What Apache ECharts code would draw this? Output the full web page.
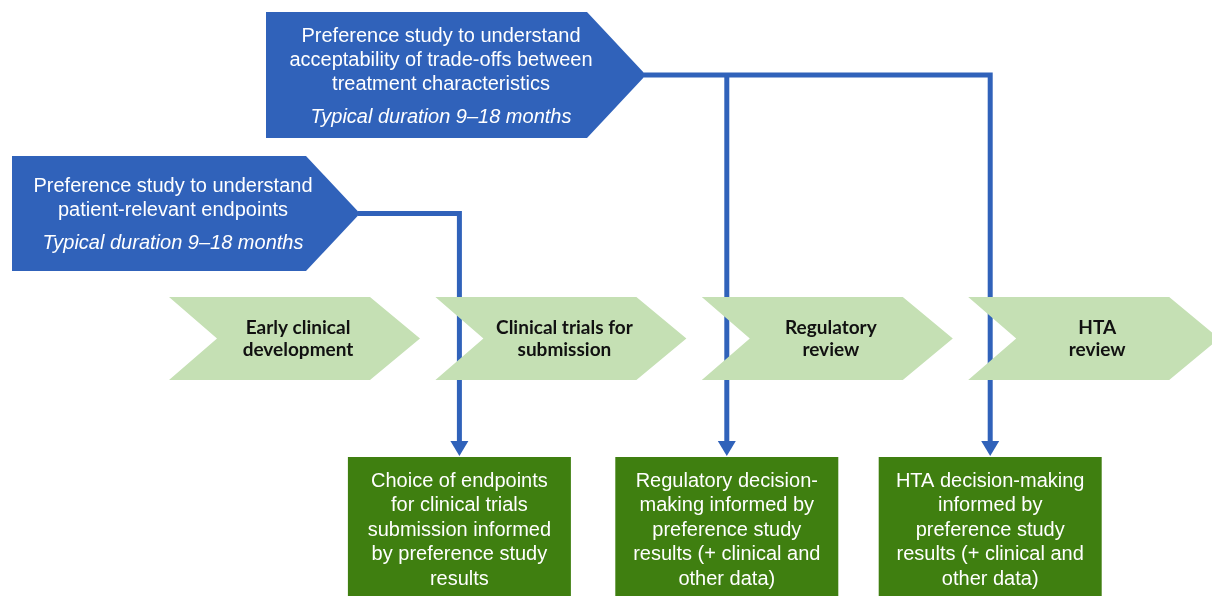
<!DOCTYPE html>
<html><head><meta charset="utf-8">
<script src="https://cdn.jsdelivr.net/npm/echarts@6/dist/echarts.min.js"></script>
<style>html,body{margin:0;padding:0;background:#fff}#c{width:1212px;height:596px}</style>
</head><body><div id="c"></div>
<script>
// ---- content ----
const stages = ['Early clinical\ndevelopment', 'Clinical trials for\nsubmission', 'Regulatory\nreview', 'HTA\nreview'];
const studyTitles = ['Preference study to understand\npatient-relevant endpoints',
  'Preference study to understand\nacceptability of trade-offs between\ntreatment characteristics'];
const studyDurations = ['Typical duration 9\u201318 months', 'Typical duration 9\u201318 months'];
const studyTargets = [[1], [2, 3]];
const outcomes = ['Choice of endpoints\nfor clinical trials\nsubmission informed\nby preference study\nresults',
  'Regulatory decision-\nmaking informed by\npreference study\nresults (+ clinical and\nother data)',
  'HTA decision-making\ninformed by\npreference study\nresults (+ clinical and\nother data)'];
const outcomeStages = [1, 2, 3];

// ---- layout / style ----
const BLUE = '#3062BA', LIGHT = '#C5E0B4', DARK = '#3F7F10';
const chev = {x0: 169, step: 266.4, w: 251, notch: 48, tip: 50, y0: 297, y1: 380, textDx: 129};
const lineOffsets = [24, 24, 25, 22];
const lineX = i => chev.x0 + i * chev.step + lineOffsets[i];
const studyLayout = [
  {x0: 12, x1: 306, tip: 360, y0: 156, y1: 271, tx: 173, ty: 198, dy: 243},
  {x0: 266, x1: 587, tip: 646, y0: 12, y1: 138, tx: 441, ty: 60, dy: 117}
];
const LW = 5, ARROW_TIP = 456, ARROW_H = 15, ARROW_HW = 9;
const box = {w: 223, y0: 457, y1: 610, ty: 530};
const SANS = '"Liberation Sans", Arial, sans-serif';

const chart = echarts.init(document.getElementById('c'), null, {renderer: 'canvas'});

function renderStudy(params, api) {
  const i = api.value(0), L = studyLayout[i];
  const c = q => api.coord(q);
  const ym = (L.y0 + L.y1) / 2;
  return {type: 'group', children: [
    {type: 'polygon', shape: {points: [[L.x0, L.y0], [L.x1, L.y0], [L.tip, ym], [L.x1, L.y1], [L.x0, L.y1]].map(c)},
      style: {fill: BLUE}},
    {type: 'text', style: {text: studyTitles[i], x: c([L.tx, 0])[0], y: c([0, L.ty])[1], fill: '#fff',
      fontSize: 20, fontFamily: SANS, align: 'center', verticalAlign: 'middle', lineHeight: 24}},
    {type: 'text', style: {text: studyDurations[i], x: c([L.tx, 0])[0], y: c([0, L.dy])[1], fill: '#fff',
      fontSize: 20, fontStyle: 'italic', fontFamily: SANS, align: 'center', verticalAlign: 'middle'}}
  ]};
}

function renderConnector(params, api) {
  const i = api.value(0), L = studyLayout[i];
  const c = q => api.coord(q);
  const ym = (L.y0 + L.y1) / 2;
  const xs = studyTargets[i].map(lineX);
  const xmax = Math.max.apply(null, xs);
  const yEnd = ARROW_TIP - ARROW_H + 1;
  const children = [{type: 'polyline', shape: {points: [[L.tip - 2, ym], [xmax, ym], [xmax, yEnd]].map(c)},
    style: {stroke: BLUE, lineWidth: LW, fill: null, lineJoin: 'miter'}}];
  xs.forEach(x => {
    if (x !== xmax) children.push({type: 'polyline', shape: {points: [[x, ym], [x, yEnd]].map(c)},
      style: {stroke: BLUE, lineWidth: LW, fill: null}});
  });
  return {type: 'group', children};
}

function renderChevron(params, api) {
  const i = api.value(0), x = chev.x0 + i * chev.step;
  const c = q => api.coord(q);
  const ym = (chev.y0 + chev.y1) / 2;
  const pts = [[x, chev.y0], [x + chev.w - chev.tip, chev.y0], [x + chev.w, ym], [x + chev.w - chev.tip, chev.y1],
    [x, chev.y1], [x + chev.notch, ym]].map(c);
  return {type: 'group', children: [
    {type: 'polygon', shape: {points: pts}, style: {fill: LIGHT}},
    {type: 'text', style: {text: stages[i], x: c([x + chev.textDx, 0])[0], y: c([0, ym])[1], fill: '#111',
      fontSize: 19, fontWeight: 'bold', fontFamily: 'Lato, "Open Sans", sans-serif', align: 'center',
      verticalAlign: 'middle', lineHeight: 22}}
  ]};
}

function renderOutcome(params, api) {
  const i = api.value(0), cx = lineX(outcomeStages[i]);
  const c = q => api.coord(q);
  const tl = c([cx - box.w / 2, box.y0]), br = c([cx + box.w / 2, box.y1]);
  const a1 = c([cx - ARROW_HW, ARROW_TIP - ARROW_H]), a2 = c([cx + ARROW_HW, ARROW_TIP - ARROW_H]), a3 = c([cx, ARROW_TIP]);
  return {type: 'group', children: [
    {type: 'rect', shape: {x: tl[0], y: tl[1], width: br[0] - tl[0], height: br[1] - tl[1]}, style: {fill: DARK}},
    {type: 'polygon', shape: {points: [a1, a2, a3]}, style: {fill: BLUE}},
    {type: 'text', style: {text: outcomes[i], x: c([cx, 0])[0], y: c([0, box.ty])[1], fill: '#fff',
      fontSize: 20, fontFamily: SANS, align: 'center', verticalAlign: 'middle', lineHeight: 24.5}}
  ]};
}

chart.setOption({
  animation: false,
  grid: {left: 0, right: 0, top: 0, bottom: 0},
  xAxis: {type: 'value', min: 0, max: 1212, show: false},
  yAxis: {type: 'value', min: 0, max: 596, inverse: true, show: false},
  series: [
    {type: 'custom', name: 'connectors', renderItem: renderConnector, data: studyTitles.map((t, i) => [i, 0]), encode: {x: 0, y: 1}, clip: false, z: 1},
    {type: 'custom', name: 'stages', renderItem: renderChevron, data: stages.map((s, i) => [i, 0]), encode: {x: 0, y: 1}, clip: false, z: 2},
    {type: 'custom', name: 'studies', renderItem: renderStudy, data: studyTitles.map((t, i) => [i, 0]), encode: {x: 0, y: 1}, clip: false, z: 3},
    {type: 'custom', name: 'outcomes', renderItem: renderOutcome, data: outcomes.map((t, i) => [i, 0]), encode: {x: 0, y: 1}, clip: false, z: 3}
  ]
});
</script></body></html>
